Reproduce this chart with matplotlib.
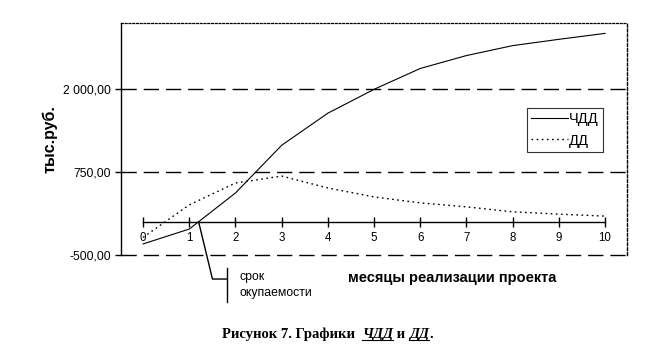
import numpy as np
import matplotlib.pyplot as plt
from matplotlib.lines import Line2D

# -----------------------------------------------------------------------------------------------------------
# ЧДД и ДД по месяцам реализации проекта
# -----------------------------------------------------------------------------------------------------------

months = list(range(11))
chdd = [-335, -110, 435, 1155, 1640, 2000, 2315, 2510, 2660, 2755, 2845]
dd = [-235, 255, 585, 690, 510, 375, 285, 225, 150, 115, 85]
y_ticks = [-500, 750, 2000]
y_tick_labels = ['-500,00', '750,00', '2 000,00']

plt.rcParams['font.family'] = ['Liberation Sans', 'DejaVu Sans']

fig = plt.figure(figsize=(6.5, 3.61), dpi=100)
ax = fig.add_axes([0.186, 0.294, 0.779, 0.642])

ax.set_xlim(-0.48, 10.48)
ax.set_ylim(-500, 3000)

# dashed grid lines (including the bottom border)
for v in y_ticks:
    ax.axhline(v, color='black', lw=1.0, dashes=(11, 5), clip_on=False, zorder=1)

ax.plot(months, chdd, color='black', lw=0.8, label='ЧДД', zorder=3)
ax.plot(months, dd, color='black', lw=1.0, linestyle=(0, (1.2, 2.5)), label='ДД', zorder=3)

# spines
ax.spines['left'].set_linewidth(1.0)
ax.spines['top'].set_linestyle((0, (1.5, 1.5)))
ax.spines['top'].set_linewidth(0.9)
ax.spines['right'].set_linestyle((0, (2, 1.5)))
ax.spines['right'].set_linewidth(1.0)
ax.spines['bottom'].set_position(('data', 0))
ax.spines['bottom'].set_bounds(0, 10)
ax.spines['bottom'].set_linewidth(1.0)

ax.set_yticks(y_ticks)
ax.set_yticklabels(y_tick_labels, fontsize=8.7)
ax.tick_params(axis='y', direction='out', length=4, width=1, pad=3)
ax.set_xticks(months)
ax.set_xticklabels([str(m) for m in months], fontsize=8.3)
ax.tick_params(axis='x', direction='inout', length=7, width=1, pad=4)

ax.set_ylabel('тыс.руб.', fontsize=11.5, fontweight='bold')
ax.yaxis.set_label_coords(-0.125, 0.5)
ax.text((348 - 121) / 506, -0.1, 'месяцы реализации проекта', transform=ax.transAxes,
        ha='left', va='center', fontsize=10.5, fontweight='bold')

leg = ax.legend(loc='upper left', bbox_to_anchor=(0.802, 0.634), fontsize=10.5,
                frameon=True, fancybox=False, edgecolor='black', handlelength=2.5,
                handletextpad=0.1, borderpad=0.3, labelspacing=0.5, borderaxespad=0)
leg.get_frame().set_linewidth(0.8)

# срок окупаемости: где ЧДД пересекает ноль
i = next(k for k in range(1, len(chdd)) if chdd[k] >= 0)
payback = months[i - 1] + (0 - chdd[i - 1]) / (chdd[i] - chdd[i - 1])
ax.plot([payback, payback + 0.3, payback + 0.62], [0, -865, -865],
        color='black', lw=1.0, clip_on=False)
ax.plot([payback + 0.62, payback + 0.62], [-700, -1210], color='black', lw=1.0, clip_on=False)
ax.text(payback + 0.88, -830, 'срок', fontsize=8.8, va='center', ha='left')
ax.text(payback + 0.88, -1080, 'окупаемости', fontsize=8.8, va='center', ha='left')

# подпись рисунка
serif = ['Liberation Serif', 'DejaVu Serif']
parts = [('Рисунок 7. Графики  ', 'normal', False), ('ЧДД', 'italic', True),
         (' и ', 'normal', False), ('ДД', 'italic', True), ('.', 'normal', False)]
fig.canvas.draw()
renderer = fig.canvas.get_renderer()
x0 = 222 / 650
y0 = 0.063
for txt, style, under in parts:
    t = fig.text(x0, y0, txt, fontsize=10.5, fontweight='bold', fontstyle=style,
                 family=serif, ha='left', va='baseline')
    bb = t.get_window_extent(renderer).transformed(fig.transFigure.inverted())
    if under:
        fig.add_artist(Line2D([bb.x0, bb.x1], [y0 - 0.006, y0 - 0.006], color='black', lw=0.8))
    x0 = bb.x1

fig.savefig('out.png', dpi=100)
